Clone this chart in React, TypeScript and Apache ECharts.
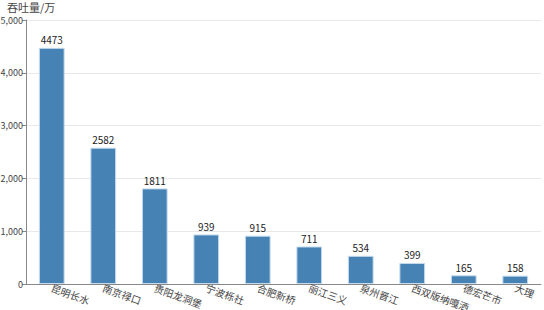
import React, { useEffect, useRef } from "react";
import * as echarts from "echarts";

const categories = ["昆明长水", "南京禄口", "贵阳龙洞堡", "宁波栎社", "合肥新桥", "丽江三义", "泉州晋江", "西双版纳嘎洒", "德宏芒市", "大理"];
const values = [4473, 2582, 1811, 939, 915, 711, 534, 399, 165, 158];
const yTitle = "吞吐量/万";

export default function App() {
  const ref = useRef<HTMLDivElement>(null);
  useEffect(() => {
    const chart = echarts.init(ref.current!, null, { renderer: "svg" });
    const font = "'Noto Sans CJK SC', 'Noto Sans', sans-serif";
    chart.setOption({
      animation: false,
      textStyle: { fontFamily: font },
      grid: { left: 26, right: 3, top: 20, bottom: 26, containLabel: false, outerBoundsMode: "none" },
      xAxis: {
        type: "category",
        data: categories,
        axisLine: { lineStyle: { color: "#888" } },
        axisTick: { lineStyle: { color: "#888" } },
        axisLabel: { rotate: -20, color: "#444", fontSize: 10, margin: 3, interval: 0, fontFamily: font },
      },
      yAxis: {
        type: "value",
        min: 0,
        max: 5000,
        interval: 1000,
        name: yTitle,
        nameLocation: "end",
        nameGap: 8,
        nameTextStyle: { color: "#444", fontSize: 11, align: "left", verticalAlign: "bottom", padding: [0, 0, 0, -19], fontFamily: font },
        axisLine: { show: true, lineStyle: { color: "#888" } },
        axisTick: { show: true, length: 4, lineStyle: { color: "#888" } },
        axisLabel: { color: "#444", fontSize: 9, margin: 3, fontFamily: font, formatter: (v: number) => v.toLocaleString("en-US") },
        splitLine: { lineStyle: { color: "#e8e8e8" } },
      },
      series: [
        {
          type: "bar",
          data: values,
          barWidth: "50%",
          itemStyle: { color: "#4682b4", borderColor: "#c6dcee", borderWidth: 1 },
          label: { show: true, position: "top", color: "#222", fontSize: 10, distance: 3, fontFamily: font },
        },
      ],
    });
    return () => chart.dispose();
  }, []);
  return <div ref={ref} style={{ width: 544, height: 310, position: "absolute", left: 0, top: 0 }} />;
}
